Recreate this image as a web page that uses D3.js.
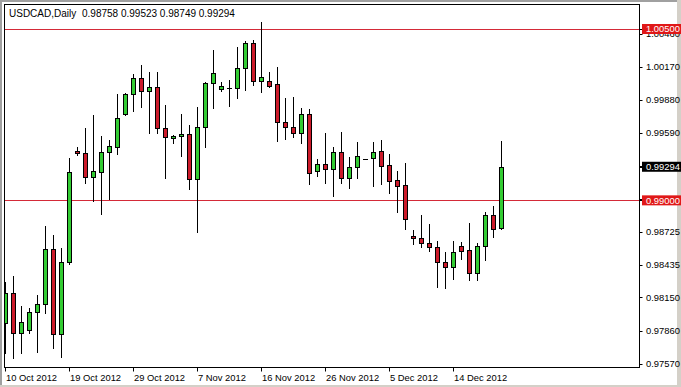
<!DOCTYPE html>
<html>
<head>
<meta charset="utf-8">
<title>USDCAD Daily</title>
<script src="https://cdn.jsdelivr.net/npm/d3@7"></script>
<style>
  body { margin: 0; background: #fff; }
  svg { display: block; }
  text { font-family: "Liberation Sans", Arial, sans-serif; font-size: 9.4px; fill: #000; }
</style>
</head>
<body>
<svg width="681" height="387"></svg>
<script>

var symbolName = "USDCAD,Daily";

var open = [
  0.97924, 0.98186, 0.97836, 0.97865, 0.98020, 0.98090, 0.98571, 0.97830, 0.98463, 0.99432,
  0.99412, 0.99202, 0.99251, 0.99421, 0.99470, 0.99756, 0.99928, 1.00068, 0.99960, 0.99990,
  0.99631, 0.99543, 0.99561, 0.99581, 0.99184, 0.99640, 1.00025, 0.99972, 0.99986, 0.99981,
  1.00156, 1.00375, 1.00047, 1.00047, 1.00016, 0.99683, 0.99645, 0.99587, 0.99753, 0.99260,
  0.99316, 0.99272, 0.99421, 0.99193, 0.99289, 0.99362, 0.99368, 0.99432, 0.99310, 0.99178,
  0.99134, 0.98688, 0.98668, 0.98629, 0.98589, 0.98458, 0.98414, 0.98600, 0.98565, 0.98367,
  0.98603, 0.98872, 0.98758];

var high = [
  0.98285, 0.98338, 0.98075, 0.98055, 0.98171, 0.98778, 0.98697, 0.98580, 0.99373, 0.99464,
  0.99631, 0.99747, 0.99563, 0.99526, 0.99931, 0.99937, 1.00104, 1.00185, 1.00121, 1.00121,
  0.99835, 0.99572, 0.99756, 0.99660, 0.99815, 1.00039, 1.00316, 1.00039, 1.00054, 1.00340,
  1.00395, 1.00404, 1.00564, 1.00121, 1.00170, 0.99899, 0.99907, 0.99806, 0.99797, 0.99359,
  0.99592, 0.99464, 0.99601, 0.99377, 0.99513, 0.99362, 0.99513, 0.99528, 0.99406, 0.99260,
  0.99330, 0.98740, 0.98872, 0.98793, 0.98644, 0.98545, 0.98644, 0.98638, 0.98804, 0.98624,
  0.98901, 0.98953, 0.99523];

var low = [
  0.97664, 0.97617, 0.97661, 0.97836, 0.97675, 0.98011, 0.97710, 0.97626, 0.98440, 0.99397,
  0.99149, 0.98997, 0.98878, 0.99009, 0.99403, 0.99747, 0.99782, 0.99820, 0.99587, 0.99587,
  0.99198, 0.99505, 0.99391, 0.99097, 0.98726, 0.99464, 0.99811, 0.99960, 0.99829, 0.99893,
  0.99966, 1.00010, 0.99951, 0.99995, 0.99522, 0.99537, 0.99557, 0.99505, 0.99140, 0.99216,
  0.99149, 0.99041, 0.99149, 0.99106, 0.99198, 0.99362, 0.99128, 0.99140, 0.99062, 0.98901,
  0.98747, 0.98618, 0.98594, 0.98559, 0.98244, 0.98235, 0.98309, 0.98484, 0.98303, 0.98303,
  0.98478, 0.98682, 0.98749];

var close = [
  0.98186, 0.97836, 0.97932, 0.98020, 0.98090, 0.98571, 0.97830, 0.98463, 0.99251, 0.99412,
  0.99202, 0.99257, 0.99426, 0.99476, 0.99718, 0.99928, 1.00068, 0.99960, 0.99992, 0.99631,
  0.99552, 0.99563, 0.99581, 0.99184, 0.99640, 1.00025, 1.00112, 1.00001, 0.99986, 1.00156,
  1.00375, 1.00047, 1.00082, 1.00004, 0.99683, 0.99645, 0.99587, 0.99753, 0.99237, 0.99316,
  0.99272, 0.99421, 0.99193, 0.99289, 0.99388, 0.99362, 0.99426, 0.99303, 0.99172, 0.99128,
  0.98834, 0.98668, 0.98629, 0.98589, 0.98458, 0.98414, 0.98545, 0.98559, 0.98367, 0.98600,
  0.98872, 0.98747, 0.99294];

var xTickIndex = [0, 8, 16, 24, 32, 40, 48, 56];
var xTickLabels = ["10 Oct 2012", "19 Oct 2012", "29 Oct 2012", "7 Nov 2012",
                   "16 Nov 2012", "26 Nov 2012", "5 Dec 2012", "14 Dec 2012"];

var yTickLabels = ["1.00460", "1.00170", "0.99880", "0.99590", "0.99300", "0.99010",
                   "0.98725", "0.98435", "0.98150", "0.97860", "0.97570"];

// horizontal lines drawn on the chart (red labels on the axis)
var levels = [1.00500, 0.99000];

var upColor = "#33cc33",
    downColor = "#cc1a2a",
    levelColor = "#d42a38";

var svg = d3.select("svg"),
    plot = {left: 4.5, top: 4.5, right: 639.5, bottom: 367.5};

var x = d3.scaleLinear().domain([0, 62]).range([5, 501]),
    y = d3.scaleLinear().domain([0.97570, 1.00170]).range([363.7, 66.7]);

function py(v) { return Math.round(y(v)); }

// window frame
svg.append("rect").attr("x", 0).attr("y", 0).attr("width", 681).attr("height", 387).attr("fill", "#fff");
svg.append("rect").attr("x", 0).attr("y", 0).attr("width", 681).attr("height", 2).attr("fill", "#a0a0a0");
svg.append("rect").attr("x", 0).attr("y", 0).attr("width", 2).attr("height", 387).attr("fill", "#a0a0a0");
svg.append("rect").attr("x", 677).attr("y", 0).attr("width", 4).attr("height", 387).attr("fill", "#d4d0c8");
svg.append("rect").attr("x", 0).attr("y", 385).attr("width", 681).attr("height", 2).attr("fill", "#d4d0c8");

svg.append("clipPath").attr("id", "clip")
  .append("rect")
    .attr("x", plot.left + 0.5).attr("y", plot.top + 0.5)
    .attr("width", plot.right - plot.left - 1).attr("height", plot.bottom - plot.top - 1);

var g = svg.append("g").attr("clip-path", "url(#clip)");

// level lines
g.selectAll(".level")
  .data(levels)
  .enter().append("line")
    .attr("x1", plot.left).attr("x2", plot.right)
    .attr("y1", function(d) { return py(d) + 0.5; })
    .attr("y2", function(d) { return py(d) + 0.5; })
    .attr("stroke", levelColor).attr("stroke-width", 1);

var bars = d3.range(open.length);

// wicks
g.selectAll(".wick")
  .data(bars)
  .enter().append("line")
    .attr("x1", function(i) { return Math.round(x(i)) + 0.5; })
    .attr("x2", function(i) { return Math.round(x(i)) + 0.5; })
    .attr("y1", function(i) { return py(high[i]); })
    .attr("y2", function(i) { return py(low[i]) + 1; })
    .attr("stroke", "#000").attr("stroke-width", 1);

// bodies
g.selectAll(".body")
  .data(bars.filter(function(i) { return py(open[i]) != py(close[i]); }))
  .enter().append("rect")
    .attr("x", function(i) { return Math.round(x(i)) - 2 + 0.5; })
    .attr("y", function(i) { return py(Math.max(open[i], close[i])) + 0.5; })
    .attr("width", 4)
    .attr("height", function(i) { return Math.max(1, py(Math.min(open[i], close[i])) - py(Math.max(open[i], close[i]))); })
    .attr("fill", function(i) { return close[i] > open[i] ? upColor : downColor; })
    .attr("stroke", "#000").attr("stroke-width", 1);

// doji
g.selectAll(".doji")
  .data(bars.filter(function(i) { return py(open[i]) == py(close[i]); }))
  .enter().append("line")
    .attr("x1", function(i) { return Math.round(x(i)) - 2; })
    .attr("x2", function(i) { return Math.round(x(i)) + 3; })
    .attr("y1", function(i) { return py(open[i]) + 0.5; })
    .attr("y2", function(i) { return py(open[i]) + 0.5; })
    .attr("stroke", "#000").attr("stroke-width", 1);

// plot border
svg.append("rect")
  .attr("x", plot.left).attr("y", plot.top)
  .attr("width", plot.right - plot.left).attr("height", plot.bottom - plot.top)
  .attr("fill", "none").attr("stroke", "#000").attr("stroke-width", 1);

// y axis labels
var yAxis = svg.append("g");
yAxis.selectAll(".ytick")
  .data(yTickLabels)
  .enter().append("line")
    .attr("x1", plot.right).attr("x2", plot.right + 3)
    .attr("y1", function(d) { return py(+d) + 0.5; })
    .attr("y2", function(d) { return py(+d) + 0.5; })
    .attr("stroke", "#000");
yAxis.selectAll(".ylabel")
  .data(yTickLabels)
  .enter().append("text")
    .attr("x", 646)
    .attr("y", function(d) { return y(+d) + 3.4; })
    .text(function(d) { return d; });

// x axis labels
var xAxis = svg.append("g");
xAxis.selectAll(".xtick")
  .data(xTickIndex)
  .enter().append("line")
    .attr("x1", function(i) { return Math.round(x(i)) + 0.5; })
    .attr("x2", function(i) { return Math.round(x(i)) + 0.5; })
    .attr("y1", plot.bottom).attr("y2", plot.bottom + 4)
    .attr("stroke", "#000");
xAxis.selectAll(".xlabel")
  .data(xTickIndex)
  .enter().append("text")
    .attr("x", function(i) { return x(i) + 1; })
    .attr("y", 380.5)
    .text(function(d, k) { return xTickLabels[k]; });

// price boxes on the axis
var last = open.length - 1;
var boxes = [
  {value: levels[0], fill: "#e01818"},
  {value: close[last], fill: "#000"},
  {value: levels[1], fill: "#e01818"}
];
var box = svg.selectAll(".pricebox")
  .data(boxes)
  .enter().append("g");
box.append("rect")
    .attr("x", 642).attr("y", function(d) { return y(d.value) - 5; })
    .attr("width", 39).attr("height", 10)
    .attr("fill", function(d) { return d.fill; });
box.append("line")
    .attr("x1", plot.right).attr("x2", 642)
    .attr("y1", function(d) { return py(d.value) + 0.5; })
    .attr("y2", function(d) { return py(d.value) + 0.5; })
    .attr("stroke", "#000");
box.append("text")
    .attr("x", 646).attr("y", function(d) { return y(d.value) + 3.4; })
    .style("fill", "#fff")
    .text(function(d) { return d.value.toFixed(5); });

// header
svg.append("text").attr("x", 9).attr("y", 16.5).style("font-size", "10px").text(symbolName);
svg.append("text").attr("x", 82).attr("y", 16.5).style("font-size", "10px").attr("xml:space", "preserve")
  .text([open[last], high[last], low[last], close[last]].map(function(v) { return v.toFixed(5); }).join(" "));

</script>
</body>
</html>
